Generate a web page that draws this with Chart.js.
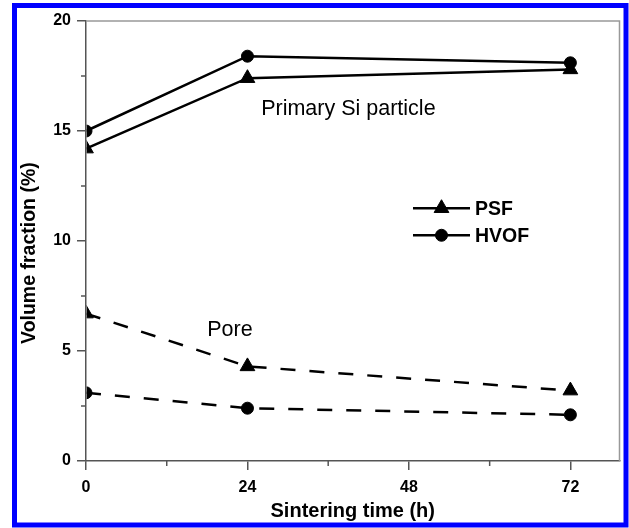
<!DOCTYPE html>
<html>
<head>
<meta charset="utf-8">
<script src="https://cdn.jsdelivr.net/npm/chart.js@4"></script>
<style>
html,body{margin:0;padding:0;background:#fff;}
#wrap{position:relative;width:629px;height:528px;}
</style>
</head>
<body>
<div id="wrap"><canvas id="c" width="629" height="528"></canvas></div>
<script>
const times = [0, 24, 72];
const psfPrimary = [14.2, 17.4, 17.8];
const hvofPrimary = [15.0, 18.4, 18.1];
const psfPore = [6.7, 4.3, 3.2];
const hvofPore = [3.1, 2.4, 2.1];
const legendLabels = ['PSF', 'HVOF'];
const xTitle = 'Sintering time (h)';
const yTitle = 'Volume fraction (%)';
const primaryLabel = 'Primary Si particle';
const poreLabel = 'Pore';

const FONT = '"Liberation Sans", Arial, sans-serif';
const AXIS = '#555';

function pts(ys){ return times.map((t,i)=>({x:t,y:ys[i]})); }
function ds(label, ys, shape, dashed){
  return {
    label, data: pts(ys), clip: 0,
    borderColor:'#000', backgroundColor:'#000',
    borderWidth:2.5, borderDash: dashed ? [15,14] : [],
    pointStyle: shape, pointRadius: shape==='triangle'?8.5:6, pointBorderWidth:1,
    pointBackgroundColor:'#000', pointBorderColor:'#000', tension:0
  };
}

const framePlugin = {
  id:'frame',
  beforeDatasetsDraw(chart){
    const {ctx, chartArea:a, scales} = chart;
    ctx.save();
    ctx.strokeStyle = '#999'; ctx.lineWidth = 1.5;
    ctx.beginPath();
    ctx.moveTo(a.left, a.top); ctx.lineTo(a.right, a.top); ctx.lineTo(a.right, a.bottom);
    ctx.stroke();
    // minor ticks
    ctx.strokeStyle = AXIS; ctx.lineWidth = 1.5;
    scales.y.ticks.forEach(t=>{
      if (t.value % 5 !== 0){
        const y = scales.y.getPixelForValue(t.value);
        ctx.beginPath(); ctx.moveTo(a.left-5, y); ctx.lineTo(a.left, y); ctx.stroke();
      }
    });
    scales.x.ticks.forEach(t=>{
      if (t.value % 24 !== 0){
        const x = scales.x.getPixelForValue(t.value);
        ctx.beginPath(); ctx.moveTo(x, a.bottom); ctx.lineTo(x, a.bottom+5); ctx.stroke();
      }
    });
    ctx.restore();
    // clip datasets (incl. markers) to the plot area
    ctx.save();
    ctx.beginPath();
    ctx.rect(a.left + 0.75, a.top - 20, a.right - a.left + 20, a.bottom - a.top + 20 - 0.75);
    ctx.clip();
  },
  afterDatasetsDraw(chart){
    chart.ctx.restore();
  },
  afterDraw(chart){
    const {ctx, scales} = chart;
    const xs = scales.x, ys = scales.y;
    ctx.save();
    ctx.fillStyle = '#000';
    ctx.textBaseline = 'middle';
    // y axis title
    ctx.save();
    ctx.translate(30, ys.getPixelForValue(9.45));
    ctx.rotate(-Math.PI/2);
    ctx.font = 'bold 19.5px ' + FONT;
    ctx.textAlign = 'center';
    ctx.fillText(yTitle, 0, 0);
    ctx.restore();
    // annotations
    ctx.font = '21.5px ' + FONT;
    ctx.textAlign = 'center';
    ctx.fillText(primaryLabel, xs.getPixelForValue(39.0), ys.getPixelForValue(16.0));
    ctx.fillText(poreLabel, xs.getPixelForValue(21.4), ys.getPixelForValue(5.94));
    // legend
    const entries = [
      {label: legendLabels[0], shape:'triangle', r:8.5, y: ys.getPixelForValue(11.49)},
      {label: legendLabels[1], shape:'circle', r:6, y: ys.getPixelForValue(10.26)}
    ];
    const x0 = 413, x1 = 470;
    entries.forEach(e=>{
      ctx.strokeStyle = '#000'; ctx.lineWidth = 2.5;
      ctx.beginPath(); ctx.moveTo(x0, e.y); ctx.lineTo(x1, e.y); ctx.stroke();
      ctx.lineWidth = 1;
      Chart.helpers.drawPoint(ctx, {pointStyle:e.shape, radius:e.r, rotation:0, borderWidth:1}, (x0+x1)/2, e.y);
      ctx.font = 'bold 19.5px ' + FONT;
      ctx.textAlign = 'left';
      ctx.fillText(e.label, x1 + 5, e.y + 1);
    });
    // blue border
    ctx.strokeStyle = '#0000ff'; ctx.lineWidth = 5;
    ctx.strokeRect(14.5, 5.5, 611.5, 519.5);
    ctx.restore();
  }
};

new Chart(document.getElementById('c'), {
  type:'line',
  data:{ datasets:[
    ds('PSF', psfPrimary, 'triangle', false),
    ds('HVOF', hvofPrimary, 'circle', false),
    ds('PSF pore', psfPore, 'triangle', true),
    ds('HVOF pore', hvofPore, 'circle', true)
  ]},
  options:{
    responsive:false, animation:false, devicePixelRatio:1,
    layout:{padding:{left:18, top:21, right:7, bottom:0}},
    plugins:{legend:{display:false}, tooltip:{enabled:false}},
    scales:{
      x:{
        type:'linear', min:0, max:79.3,
        ticks:{stepSize:12, includeBounds:false, padding:8, color:'#000', font:{family:FONT, size:16, weight:'bold'},
          callback:v => v % 24 === 0 ? String(v) : ''},
        grid:{drawOnChartArea:false, tickLength:9, lineWidth:1.5,
          color: c => (c.tick && c.tick.value % 24 === 0) ? AXIS : 'rgba(0,0,0,0)'},
        border:{color:AXIS, width:1.5},
        title:{display:true, text:xTitle, color:'#000', font:{family:FONT, size:20, weight:'bold'}, padding:{top:0,bottom:5}},
        afterFit(s){ s.height = 67; }
      },
      y:{
        min:0, max:20,
        ticks:{stepSize:2.5, padding:6, color:'#000', font:{family:FONT, size:16, weight:'bold'},
          callback:v => v % 5 === 0 ? String(v) : ''},
        grid:{drawOnChartArea:false, tickLength:9, lineWidth:1.5,
          color: c => (c.tick && c.tick.value % 5 === 0) ? AXIS : 'rgba(0,0,0,0)'},
        border:{color:AXIS, width:1.5},
        title:{display:false},
        afterFit(s){ s.width = 68; }
      }
    }
  },
  plugins:[framePlugin]
});
</script>
</body>
</html>
